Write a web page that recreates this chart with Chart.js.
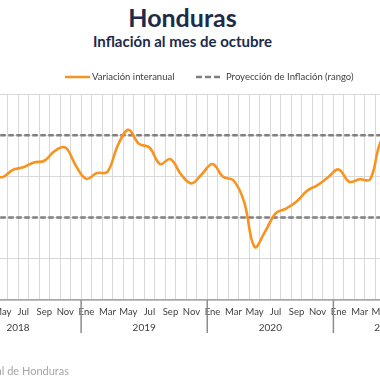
<!DOCTYPE html>
<html><head><meta charset="utf-8">
<script src="https://cdn.jsdelivr.net/npm/chart.js@4"></script>
<style>
html,body{margin:0;padding:0;width:380px;height:380px;overflow:hidden;background:#fff;position:relative;font-family:Lato,"Open Sans",sans-serif}
#wrap{position:absolute;left:-98px;top:0;width:600px;height:380px}
.t{position:absolute;left:0;width:365px;text-align:center;font-weight:bold;color:#1c2b4a;white-space:nowrap}
#t1{top:2px;font-size:25px;line-height:30px}
#t2{top:32px;font-size:15px;line-height:18px}
#src{position:absolute;right:311px;top:364px;font-size:11px;line-height:13px;color:#a6a6a6;white-space:nowrap}
</style></head>
<body>
<div class="t" id="t1">Honduras</div>
<div class="t" id="t2">Inflación al mes de octubre</div>
<div id="wrap"><canvas id="c" width="600" height="380"></canvas></div>
<div id="src">Fuente: Banco Central de Honduras</div>
<script>
const years = ['2018','2019','2020','2021'];
const monthsPerYear = [12,12,12,10];
const monthNames = ['Ene','Feb','Mar','Abr','May','Jun','Jul','Ago','Sep','Oct','Nov','Dic'];
const shownMonths = ['Ene','Mar','May','Jul','Sep','Nov'];
// Variación interanual (%), Ene 2018 – Oct 2021 (null = outside the visible picture)
const interanual2018 = [null,null,null,4.06,3.98,4.16,4.22,4.34,4.38,4.62,4.70,4.26];
const interanual2019 = [3.94,4.08,4.11,4.76,5.13,4.79,4.70,4.30,4.42,4.05,3.83,4.06];
const interanual2020 = [4.30,3.99,3.90,3.39,2.29,2.66,3.10,3.22,3.39,3.65,3.79,3.98];
const interanual2021 = [4.17,3.87,3.93,3.93,4.84,5.05,null,null,null,null];
const rangoSuperior = 5;
const rangoInferior = 3;
const yTicks = [1,2,3,4,5,6];

const categories = [];
years.forEach((y,i)=>{ for(let m=0;m<monthsPerYear[i];m++) categories.push([monthNames[m], y]); });
const interanual = [].concat(interanual2018, interanual2019, interanual2020, interanual2021);
const n = categories.length;

const legendPlugin = {
  id:'customLegend',
  afterDraw(chart){
    const ctx = chart.ctx, ds = chart.data.datasets;
    const off = 98, y = 77;
    ctx.save();
    ctx.font = '9.5px Lato, sans-serif';
    ctx.fillStyle = '#404040';
    ctx.textBaseline = 'middle';
    let x = 65 + off;
    ctx.strokeStyle = ds[0].borderColor; ctx.lineWidth = 2.5; ctx.setLineDash([]);
    ctx.beginPath(); ctx.moveTo(x, y); ctx.lineTo(x+25, y); ctx.stroke();
    ctx.fillText(ds[0].label, x+27, y);
    x = 196 + off;
    ctx.strokeStyle = ds[1].borderColor; ctx.lineWidth = 2.5; ctx.setLineDash([6,3]);
    ctx.beginPath(); ctx.moveTo(x, y); ctx.lineTo(x+27, y); ctx.stroke();
    ctx.setLineDash([]);
    ctx.fillText(ds[1].label, x+30, y);
    ctx.restore();
  }
};

const yearPlugin = {
  id:'yearAxis',
  afterDraw(chart){
    const xs = chart.scales.x, ctx = chart.ctx;
    const cw = xs.getPixelForValue(1) - xs.getPixelForValue(0);
    ctx.save();
    ctx.font = '10px Lato, sans-serif';
    ctx.fillStyle = '#404040';
    ctx.textAlign = 'center';
    ctx.textBaseline = 'middle';
    let start = 0;
    years.forEach((y,i)=>{
      const x0 = xs.getPixelForValue(start) - cw/2;
      const x1 = xs.getPixelForValue(start + monthsPerYear[i] - 1) + cw/2;
      ctx.fillText(y, (x0+x1)/2, xs.top + 28);
      ctx.strokeStyle = '#8c8c8c'; ctx.lineWidth = 1.5;
      ctx.beginPath(); ctx.moveTo(x0, xs.top); ctx.lineTo(x0, xs.top + 33); ctx.stroke();
      start += monthsPerYear[i];
    });
    ctx.restore();
  }
};

new Chart(document.getElementById('c'), {
  type:'line',
  data:{
    labels: categories,
    datasets:[
      {label:'Variación interanual', data: interanual, borderColor:'#F7931E', borderWidth:2.6, tension:0.4, pointRadius:0, fill:false},
      {label:'Proyección de Inflación (rango)', data: categories.map(()=>rangoSuperior), borderColor:'#7f7f7f', borderWidth:2.5, borderDash:[5.5,2.5], pointRadius:0, fill:false},
      {label:'Proyección de Inflación (rango) inf', data: categories.map(()=>rangoInferior), borderColor:'#7f7f7f', borderWidth:2.5, borderDash:[5.5,2.5], pointRadius:0, fill:false}
    ]
  },
  options:{
    responsive:false, animation:false, devicePixelRatio:1,
    layout:{padding:{left:53, right:63.5, top:94, bottom:0}},
    plugins:{legend:{display:false}, title:{display:false}, tooltip:{enabled:false}},
    scales:{
      x:{
        offset:true,
        grid:{offset:true, color:'#d9d9d9', lineWidth:1, drawTicks:false},
        border:{color:'#a6a6a6', width:1.5},
        ticks:{autoSkip:false, maxRotation:0, minRotation:0, padding:6, color:'#404040', font:{size:9.5, family:'Lato'},
          callback:(v,i)=> shownMonths.includes(categories[i][0]) ? categories[i][0] : ''},
        afterFit:(s)=>{ s.height = 80; }
      },
      y:{
        min:yTicks[0], max:yTicks[yTicks.length-1],
        afterBuildTicks:(s)=>{ s.ticks = yTicks.map(v=>({value:v})); },
        ticks:{display:false},
        grid:{color:'#d9d9d9', lineWidth:1, drawTicks:false},
        border:{display:false},
        afterFit:(s)=>{ s.width = 0; }
      }
    }
  },
  plugins:[legendPlugin, yearPlugin]
});
</script>
</body></html>
